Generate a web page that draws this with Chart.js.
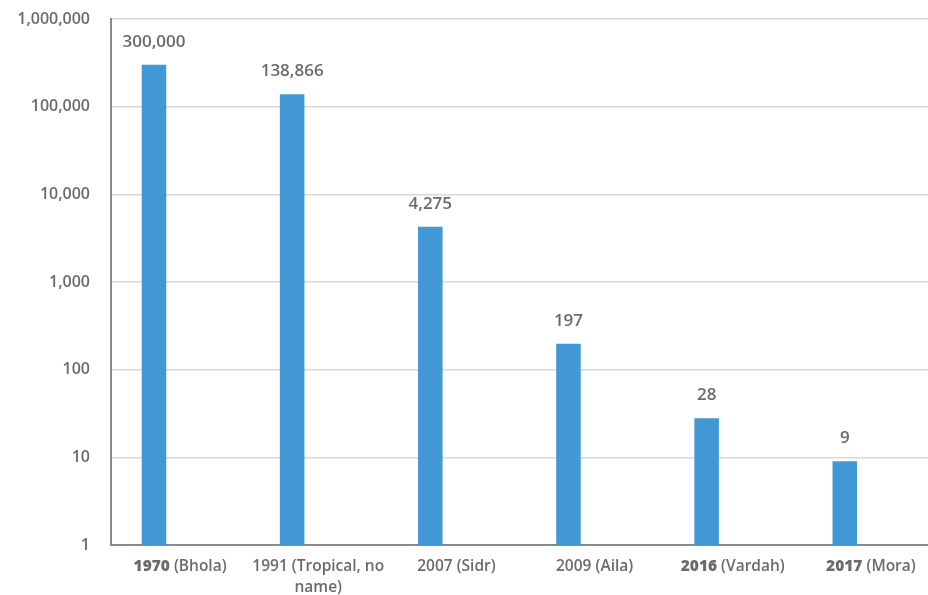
<!DOCTYPE html>
<html>
<head>
<meta charset="utf-8">
<script src="https://cdn.jsdelivr.net/npm/chart.js@4"></script>
<style>
  html, body { margin: 0; padding: 0; background: #fff; overflow: hidden; }
  #wrap { width: 940px; height: 595px; }
</style>
</head>
<body>
<div id="wrap"><canvas id="chart" width="940" height="595"></canvas></div>
<script>
// cyclone deaths, log scale
const years = ['1970', '1991', '2007', '2009', '2016', '2017'];
const names = ['(Bhola)', '(Tropical, no name)', '(Sidr)', '(Aila)', '(Vardah)', '(Mora)'];
const boldYear = [true, false, false, false, true, true];
const deaths = [300000, 138866, 4275, 197, 28, 9];
const yTicks = [1, 10, 100, 1000, 10000, 100000, 1000000];

// wrapped label lines
const wrapAt = { 1: ['1991 (Tropical, no', 'name)'] };

const textColor = '#6b6b6b';
const fontFam = '"Open Sans", "Noto Sans", sans-serif';

const labelPlugin = {
  id: 'labels',
  afterDatasetsDraw(chart) {
    const ctx = chart.ctx;
    const meta = chart.getDatasetMeta(0);
    ctx.save();
    ctx.fillStyle = textColor;
    ctx.textAlign = 'center';
    ctx.textBaseline = 'middle';
    ctx.font = '600 17px ' + fontFam;
    meta.data.forEach((bar, i) => {
      ctx.fillText(deaths[i].toLocaleString('en-US'), bar.x, bar.y - 23);
    });

    // category labels, year part bold for some
    const xs = chart.scales.x;
    const bold = '800 15.5px ' + fontFam;
    const reg = '600 15.5px ' + fontFam;
    ctx.textAlign = 'left';
    years.forEach((yr, i) => {
      const cx = xs.getPixelForValue(i);
      let lines = wrapAt[i] || [yr + ' ' + names[i]];
      lines.forEach((line, j) => {
        const y = 567 + j * 21;
        if (j === 0) {
          const rest = line.slice(yr.length);
          ctx.font = boldYear[i] ? bold : reg;
          const w1 = ctx.measureText(yr).width;
          ctx.font = reg;
          const w2 = ctx.measureText(rest).width;
          let x = cx - (w1 + w2) / 2;
          ctx.font = boldYear[i] ? bold : reg;
          ctx.fillText(yr, x, y);
          ctx.font = reg;
          ctx.fillText(rest, x + w1, y);
        } else {
          ctx.font = reg;
          const w = ctx.measureText(line).width;
          ctx.fillText(line, cx - w / 2, y);
        }
      });
    });
    ctx.restore();
  }
};

new Chart(document.getElementById('chart'), {
  type: 'bar',
  data: {
    labels: years.map((y, i) => y + ' ' + names[i]),
    datasets: [
      {
        data: deaths,
        backgroundColor: '#4298d5',
        categoryPercentage: 0.756,
        barPercentage: 0.47
      },
      {
        // empty slot so the bars sit left of the label centre
        data: deaths.map(() => null),
        backgroundColor: 'rgba(0,0,0,0)',
        categoryPercentage: 0.756,
        barPercentage: 0.47
      }
    ]
  },
  options: {
    responsive: false,
    animation: false,
    layout: { padding: { top: 19, right: 0, left: 0, bottom: 0 } },
    plugins: { legend: { display: false }, tooltip: { enabled: false } },
    scales: {
      x: {
        grid: { display: false, drawTicks: false },
        border: { display: true, color: '#8a8a8a', width: 2 },
        ticks: { display: false },
        afterFit(scale) { scale.height = 50; }
      },
      y: {
        type: 'logarithmic',
        min: 1,
        max: 1000000,
        afterBuildTicks(scale) {
          scale.ticks = yTicks.map(v => ({ value: v }));
        },
        afterFit(scale) {
          scale.width = 111;
          scale.paddingTop = 0;
          scale.paddingBottom = 0;
        },
        grid: { color: '#d8d8d8', lineWidth: 1.5, drawTicks: false },
        border: { display: true, color: '#8a8a8a', width: 2 },
        ticks: {
          padding: 21,
          color: textColor,
          font: { family: fontFam, size: 16, weight: '600' },
          callback: v => Number(v).toLocaleString('en-US')
        }
      }
    }
  },
  plugins: [labelPlugin]
});
</script>
</body>
</html>
